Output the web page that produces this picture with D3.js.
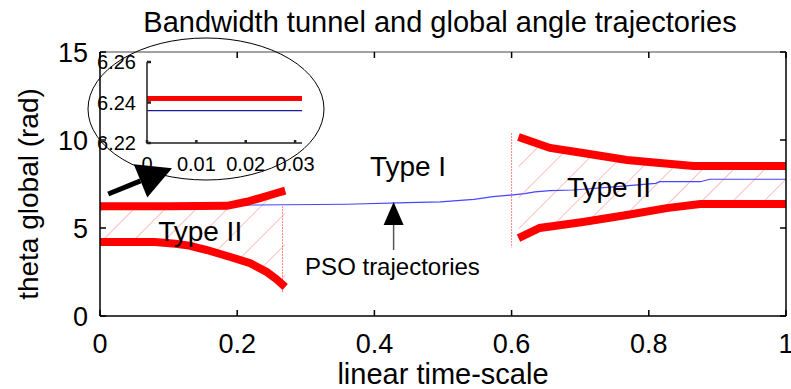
<!DOCTYPE html>
<html>
<head>
<meta charset="utf-8">
<script src="https://cdn.jsdelivr.net/npm/d3@7"></script>
<style>
  body { margin: 0; background: #fff; }
  svg { display: block; font-family: "Liberation Sans", Arial, sans-serif; }
</style>
</head>
<body>
<svg id="chart" width="791" height="389"></svg>
<script>
// ---- data ----
const xTicks = [0, 0.2, 0.4, 0.6, 0.8, 1];
const xTickLabels = ['0', '0.2', '0.4', '0.6', '0.8', '1'];
const yTicks = [0, 5, 10, 15];
const yTickLabels = ['0', '5', '10', '15'];

// Type II tunnel, left part (t < 0.27)
const leftUpperX = [0, 0.1, 0.185, 0.214, 0.233, 0.258, 0.27];
const leftUpperY = [6.24, 6.24, 6.26, 6.49, 6.7, 6.99, 7.12];
const leftLowerX = [0, 0.08, 0.11, 0.13, 0.156, 0.19, 0.219, 0.243, 0.257, 0.27];
const leftLowerY = [4.2, 4.2, 4.1, 4.0, 3.75, 3.35, 3.0, 2.5, 2.1, 1.65];

// Type II tunnel, right part (t > 0.6)
const rightUpperX = [0.61, 0.656, 0.704, 0.768, 0.816, 0.865, 1.0];
const rightUpperY = [10.17, 9.55, 9.26, 8.86, 8.69, 8.52, 8.52];
const rightLowerX = [0.61, 0.641, 0.704, 0.768, 0.826, 0.875, 1.0];
const rightLowerY = [4.43, 5.0, 5.34, 5.74, 6.13, 6.36, 6.36];

// tunnel edges (t, top, bottom)
const edgeX = [0.266, 0.6];
const edgeTop = [6.24, 10.4];
const edgeBottom = [1.3, 3.9];

// PSO global angle trajectory
const psoX = [0, 0.36, 0.448, 0.496, 0.545, 0.573, 0.602, 0.619, 0.634, 0.656, 0.69, 0.753, 0.81, 0.816, 0.875, 0.889, 1.0];
const psoY = [6.236, 6.35, 6.44, 6.49, 6.63, 6.78, 6.88, 6.95, 7.05, 7.12, 7.16, 7.35, 7.54, 7.63, 7.63, 7.77, 7.77];

// zoomed inset (first 0.03 of the time scale)
const insetXTicks = [0, 0.01, 0.02, 0.03];
const insetXTickLabels = ['0', '0.01', '0.02', '0.03'];
const insetYTicks = [6.22, 6.24, 6.26];
const insetYTickLabels = ['6.22', '6.24', '6.26'];
const insetBoundX = [0, 0.0314];
const insetBoundY = [6.242, 6.242];
const insetPsoX = [0, 0.0314];
const insetPsoY = [6.236, 6.236];

// text labels placed in data units
const regionLabels = [
  { text: 'Type I', t: 0.449, v: 7.95, size: 28 },
  { text: 'Type II', t: 0.146, v: 4.24, size: 28 },
  { text: 'Type II', t: 0.742, v: 6.76, size: 28 }
];

// ---- layout ----
const W = 791, H = 389;
const margin = { top: 52, right: 5, bottom: 73, left: 100 };
const RED = '#ff0000', HATCH = '#ff8080', BLUE = '#4646ff';

const svg = d3.select('#chart');
const x = d3.scaleLinear().domain([0, 1]).range([margin.left, W - margin.right]);
const y = d3.scaleLinear().domain([0, 15]).range([H - margin.bottom, margin.top]);

const pts = (xs, ys) => d3.zip(xs, ys);
const line = d3.line().x(d => x(d[0])).y(d => y(d[1]));

// hatch pattern
const defs = svg.append('defs');
defs.append('pattern')
  .attr('id', 'hatch')
  .attr('patternUnits', 'userSpaceOnUse')
  .attr('width', 22).attr('height', 22)
  .attr('patternTransform', 'rotate(45)')
  .append('line')
  .attr('x1', 0).attr('y1', 0).attr('x2', 0).attr('y2', 22)
  .attr('stroke', HATCH).attr('stroke-width', 1);

// hatched tunnel areas
const regions = [
  pts(leftUpperX, leftUpperY).concat(pts(leftLowerX, leftLowerY).reverse()),
  pts(rightUpperX, rightUpperY).concat(pts(rightLowerX, rightLowerY).reverse())
];
svg.append('g').selectAll('path').data(regions).join('path')
  .attr('d', d => line(d) + 'Z')
  .attr('fill', 'url(#hatch)');

// vertical edges of the tunnel
svg.append('g').selectAll('line').data(edgeX).join('line')
  .attr('x1', d => x(d)).attr('x2', d => x(d))
  .attr('y1', (d, i) => y(edgeTop[i])).attr('y2', (d, i) => y(edgeBottom[i]))
  .attr('stroke', HATCH).attr('stroke-width', 1)
  .attr('stroke-dasharray', '2,1');

// PSO trajectory
svg.append('path')
  .attr('d', line(pts(psoX, psoY)))
  .attr('fill', 'none').attr('stroke', BLUE).attr('stroke-width', 1.2);

// tunnel bounds (thick red)
const bounds = [
  pts(leftUpperX, leftUpperY), pts(leftLowerX, leftLowerY),
  pts(rightUpperX, rightUpperY), pts(rightLowerX, rightLowerY)
];
svg.append('g').selectAll('path').data(bounds).join('path')
  .attr('d', line)
  .attr('fill', 'none').attr('stroke', RED).attr('stroke-width', 8);

// ---- axes box + inward ticks ----
const x0 = x.range()[0], x1 = x.range()[1], y0 = y.range()[0], y1 = y.range()[1];
const frame = svg.append('g').attr('stroke', '#000').attr('fill', 'none');
frame.append('line').attr('x1', x0).attr('x2', x1).attr('y1', y0).attr('y2', y0).attr('stroke-width', 1.5);
frame.append('line').attr('x1', x0).attr('x2', x0).attr('y1', y0).attr('y2', y1).attr('stroke-width', 1.5);
frame.append('line').attr('x1', x1).attr('x2', x1).attr('y1', y0).attr('y2', y1).attr('stroke-width', 1.5);
frame.append('line').attr('x1', x0).attr('x2', x1).attr('y1', y1).attr('y2', y1)
  .attr('stroke', '#444').attr('stroke-width', 1);

const TL = 6;
frame.selectAll('.xt').data(xTicks).join('path').attr('class', 'xt')
  .attr('d', d => `M${x(d)},${y0}v${-TL}M${x(d)},${y1}v${TL}`)
  .attr('stroke-width', 1.5);
frame.selectAll('.yt').data(yTicks).join('path').attr('class', 'yt')
  .attr('d', d => `M${x0},${y(d)}h${TL}M${x1},${y(d)}h${-TL}`)
  .attr('stroke-width', 1.5);

svg.append('g').selectAll('text').data(xTicks).join('text')
  .attr('x', d => x(d)).attr('y', y0 + 37)
  .attr('text-anchor', 'middle').attr('font-size', 27)
  .text((d, i) => xTickLabels[i]);
svg.append('g').selectAll('text').data(yTicks).join('text')
  .attr('x', x0 - 12).attr('y', d => y(d) + 10)
  .attr('text-anchor', 'end').attr('font-size', 27)
  .text((d, i) => yTickLabels[i]);

// titles
svg.append('text').attr('x', 440).attr('y', 32)
  .attr('text-anchor', 'middle').attr('font-size', 29)
  .text('Bandwidth tunnel and global angle trajectories');
svg.append('text').attr('x', (x0 + x1) / 2).attr('y', 384)
  .attr('text-anchor', 'middle').attr('font-size', 29)
  .text('linear time-scale');
svg.append('text')
  .attr('transform', `translate(38,${(y0 + y1) / 2 + 10}) rotate(-90)`)
  .attr('text-anchor', 'middle').attr('font-size', 28)
  .text('theta global (rad)');

// region labels
svg.append('g').selectAll('text').data(regionLabels).join('text')
  .attr('x', d => x(d.t)).attr('y', d => y(d.v))
  .attr('text-anchor', 'middle').attr('font-size', d => d.size)
  .text(d => d.text);

// ---- arrows ----
function arrow(g, t0, v0, t1, v1, headLen, headHalf, shaftW, color) {
  const ax = x(t0), ay = y(v0), bx = x(t1), by = y(v1);
  const len = Math.hypot(bx - ax, by - ay);
  const ux = (bx - ax) / len, uy = (by - ay) / len;
  const cx = bx - ux * headLen, cy = by - uy * headLen;
  g.append('line').attr('x1', ax).attr('y1', ay).attr('x2', cx).attr('y2', cy)
    .attr('stroke', color).attr('stroke-width', shaftW);
  g.append('path')
    .attr('d', `M${bx},${by}L${cx - uy * headHalf},${cy + ux * headHalf}L${cx + uy * headHalf},${cy - ux * headHalf}Z`)
    .attr('fill', '#000');
}
const arrows = svg.append('g');
arrow(arrows, 0.012, 6.93, 0.105, 8.4, 34, 18, 5, '#000');   // to the inset
arrow(arrows, 0.428, 3.75, 0.428, 6.48, 23, 10, 1.5, '#555'); // PSO pointer

svg.append('text').attr('x', x(0.299)).attr('y', y(2.33))
  .attr('font-size', 24).text('PSO trajectories');

// ---- zoom inset ----
const ix = d3.scaleLinear().domain([0, 0.0314]).range([147, 302]);
const iy = d3.scaleLinear().domain([6.22, 6.26]).range([143, 62]);
const ilin = d3.line().x(d => ix(d[0])).y(d => iy(d[1]));
const inset = svg.append('g');

inset.append('ellipse').attr('cx', 206).attr('cy', 109).attr('rx', 118).attr('ry', 71)
  .attr('fill', 'none').attr('stroke', '#000').attr('stroke-width', 1);

inset.append('path').attr('d', ilin(pts(insetBoundX, insetBoundY)))
  .attr('stroke', RED).attr('stroke-width', 5).attr('fill', 'none');
inset.append('path').attr('d', ilin(pts(insetPsoX, insetPsoY)))
  .attr('stroke', '#1a1a9a').attr('stroke-width', 1.2).attr('fill', 'none');

const ia = inset.append('g').attr('stroke', '#222').attr('fill', 'none');
ia.append('path').attr('d', `M${ix.range()[0]},${iy.range()[1]}V${iy.range()[0]}H${ix.range()[1]}`)
  .attr('stroke-width', 1.5);
ia.selectAll('.ixt').data(insetXTicks).join('path').attr('class', 'ixt')
  .attr('d', d => `M${ix(d)},${iy.range()[0]}v-3`).attr('stroke-width', 2.5);
ia.selectAll('.iyt').data(insetYTicks).join('path').attr('class', 'iyt')
  .attr('d', d => `M${ix.range()[0]},${iy(d)}h4`).attr('stroke-width', 2.5);

inset.append('g').selectAll('text').data(insetXTicks).join('text')
  .attr('x', d => ix(d)).attr('y', 171)
  .attr('text-anchor', 'middle').attr('font-size', 20)
  .text((d, i) => insetXTickLabels[i]);
inset.append('g').selectAll('text').data(insetYTicks).join('text')
  .attr('x', 136).attr('y', d => iy(d) + 7)
  .attr('text-anchor', 'end').attr('font-size', 20)
  .text((d, i) => insetYTickLabels[i]);
</script>
</body>
</html>
